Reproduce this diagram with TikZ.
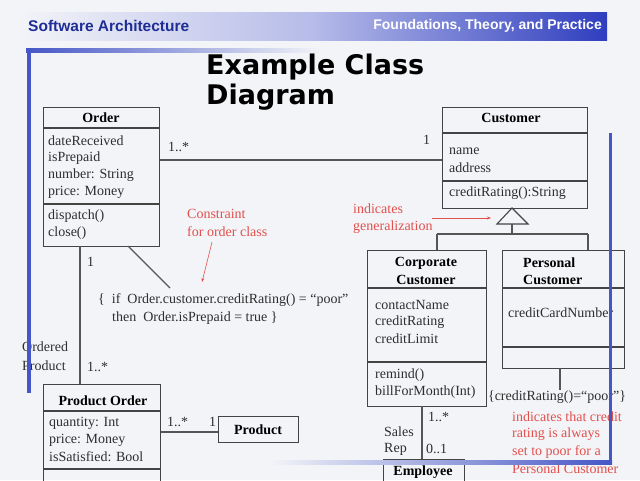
\documentclass[tikz,border=0pt]{standalone}
\usepackage{fontspec}
\setmainfont{Liberation Serif}
\newfontfamily\hdrfont{Liberation Sans}
\newfontfamily\titlefont{DejaVu Sans}
\usetikzlibrary{arrows.meta}
\definecolor{bgc}{HTML}{F3F4F8}
\definecolor{hdrblue}{HTML}{2F3EBF}
\definecolor{frameblue}{HTML}{4556C6}
\definecolor{dkblue}{HTML}{1F2D96}
\definecolor{notered}{HTML}{E2504C}
\definecolor{linegray}{HTML}{555555}
\definecolor{boxgray}{HTML}{444444}
\begin{document}
\begin{tikzpicture}[x=1pt,y=-1pt,
  umlbox/.style={draw=boxgray,line width=1.1pt,fill=none,inner sep=0,anchor=north west},
  sepline/.style={draw=boxgray,line width=1.1pt},
  conn/.style={draw=linegray,line width=1.1pt},
  txt/.style={inner sep=0,anchor=west,font=\fontsize{14}{16}\selectfont,text=black!82},
  ttl/.style={inner sep=0,anchor=center,font=\fontsize{14}{16}\selectfont\bfseries,text=black},
  note/.style={inner sep=0,anchor=west,font=\fontsize{14}{16}\selectfont,text=notered},
  redarrow/.style={draw=notered,line width=0.6pt,-{Stealth[length=4pt,width=3pt]}}]
\useasboundingbox (0,0) rectangle (640,480);
\clip (0,0) rectangle (640,480);
\fill[bgc] (0,0) rectangle (640,480);
% header band
\shade[left color=bgc,right color=hdrblue,middle color=hdrblue!35] (18,12) rectangle (607,40);
\node[inner sep=0,anchor=west,font=\hdrfont\fontsize{15.5}{17}\selectfont\bfseries,text=dkblue] (hdrl) at (28,26) {Software Architecture};
\node[inner sep=0,anchor=east,font=\hdrfont\fontsize{14}{16}\selectfont\bfseries,text=white] (hdrr) at (602,26) {Foundations, Theory, and Practice};
% title
\node[inner sep=0,anchor=base west,font=\titlefont\fontsize{27}{30}\selectfont\bfseries,text=black] (title1) at (206,74) {Example Class};
\node[inner sep=0,anchor=base west,font=\titlefont\fontsize{27}{30}\selectfont\bfseries,text=black] (title2) at (206,104) {Diagram};
% Order
\node[umlbox,minimum width=116pt,minimum height=139pt] (order) at (43,107) {};
\draw[sepline] (43,128) -- (159,128);
\draw[sepline] (43,204) -- (159,204);
\node[ttl] (orderT) at (101,118) {Order};
\node[txt] (o1) at (48,141) {dateReceived};
\node[txt] (o2) at (48,158) {isPrepaid};
\node[txt] (o3) at (48,175) {number: String};
\node[txt] (o4) at (48,192) {price: Money};
\node[txt] (o5) at (48,216) {dispatch()};
\node[txt] (o6) at (48,233) {close()};
% Customer
\node[umlbox,minimum width=145pt,minimum height=101pt] (cust) at (442,107) {};
\draw[sepline] (442,133) -- (587,133);
\draw[sepline] (442,181) -- (587,181);
\node[ttl] (custT) at (511,118) {Customer};
\node[txt] (c1) at (449,151) {name};
\node[txt] (c2) at (449,168) {address};
\node[txt] (c3) at (449,193) {creditRating():String};
% association Order-Customer
\draw[conn] (order.east |- 0,160) -- (cust.west |- 0,160);
\node[txt] (m1) at (168,147) {1..*};
\node[txt] (m2) at (423,140) {1};
% Corporate Customer
\node[umlbox,minimum width=119pt,minimum height=156pt] (corp) at (367,250) {};
\draw[sepline] (367,288) -- (486,288);
\draw[sepline] (367,362) -- (486,362);
\node[ttl] (corpT1) at (426,263) {Corporate};
\node[ttl] (corpT2) at (426,280) {Customer};
\node[txt] (k1) at (375,305) {contactName};
\node[txt] (k2) at (375,322) {creditRating};
\node[txt] (k3) at (375,339) {creditLimit};
\node[txt] (k4) at (375,375) {remind()};
\node[txt] (k5) at (375,392) {billForMonth(Int)};
% Personal Customer
\node[umlbox,minimum width=122pt,minimum height=118pt] (pers) at (502,250) {};
\draw[sepline] (502,288) -- (624,288);
\draw[sepline] (502,347) -- (624,347);
\node[ttl,anchor=west] (persT1) at (523,263) {Personal};
\node[ttl,anchor=west] (persT2) at (523,280) {Customer};
\node[txt] (p1) at (508,313) {creditCardNumber};
% generalization
\coordinate (apex) at (512,208);
\coordinate (tb) at (512,224);
\coordinate (jn) at (512,234);
\draw[sepline,fill=bgc] (apex) -- (497,224) -- (528,224) -- cycle;
\draw[conn] (tb) -- (jn);
\draw[conn] (437,234) -- (588,234);
\draw[conn] (437,234) -- (437,250);
\draw[conn] (588,234) -- (588,250);
\node[note] (gen1) at (353,209) {indicates};
\node[note] (gen2) at (353,227) {generalization};
\coordinate (ga1) at (432,218);
\coordinate (ga2) at (491,218);
\draw[redarrow] (ga1) -- (ga2);
% personal constraint
\node[txt,anchor=center] (pcon) at (557,397) {\{creditRating()=“poor”\}};
\draw[conn] (560,368) -- (pcon.north -| 560,0);
\node[note] (n1) at (512,417) {indicates that credit};
\node[note] (n2) at (512,434) {rating is always};
\node[note] (n3) at (512,452) {set to poor for a};
\node[note] (n4) at (512,469) {Personal Customer};
% Employee
\node[umlbox,minimum width=81pt,minimum height=40pt] (emp) at (383,459) {};
\node[ttl] (empT) at (423,472) {Employee};
\draw[conn] (422,406) -- (422,459);
\node[txt] (e1) at (428,417) {1..*};
\node[txt] (e2) at (384,432) {Sales};
\node[txt] (e3) at (384,449) {Rep};
\node[txt] (e4) at (426,449) {0..1};
% Order constraint
\node[txt] (oc1) at (98,300) {\{~~if~ Order.customer.creditRating() = “poor”};
\node[txt] (oc2) at (112,318) {then~ Order.isPrepaid = true \}};
\coordinate (ocend) at (170,288);
\draw[conn] (128,246) -- (ocend);
\node[note] (cn1) at (187,214) {Constraint};
\node[note] (cn2) at (187,232) {for order class};
\coordinate (ca1) at (212,242);
\coordinate (ca2) at (202,282);
\draw[redarrow] (ca1) -- (ca2);
% Product Order
\node[umlbox,minimum width=117pt,minimum height=110pt] (porder) at (43,384) {};
\draw[sepline] (43,411) -- (160,411);
\draw[sepline] (43,469) -- (160,469);
\node[ttl] (porderT) at (103,401) {Product Order};
\node[txt] (q1) at (49,423) {quantity: Int};
\node[txt] (q2) at (49,440) {price: Money};
\node[txt] (q3) at (49,457) {isSatisfied: Bool};
\draw[conn] (80,246) -- (80,384);
\node[txt] (r1) at (87,262) {1};
\node[txt] (r2) at (87,367) {1..*};
\node[txt] (r3) at (22,347) {Ordered};
\node[txt] (r4) at (22,366) {Product};
% Product
\node[umlbox,minimum width=80pt,minimum height=26pt] (prod) at (218,416) {};
\node[ttl] (prodT) at (258,430) {Product};
\draw[conn] (porder.east |- 0,432) -- (prod.west |- 0,432);
\node[txt] (s1) at (167,422) {1..*};
\node[txt] (s2) at (209,422) {1};
% frame lines (slide template, drawn on top)
\shade[left color=frameblue,right color=bgc] (26,48.5) rectangle (320,52);
\fill[frameblue] (27,49) rectangle (31,393);
\fill[frameblue] (608.5,133) rectangle (612,463);
\shade[left color=bgc,right color=frameblue] (270,460.5) rectangle (612,464);
\end{tikzpicture}
\end{document}
